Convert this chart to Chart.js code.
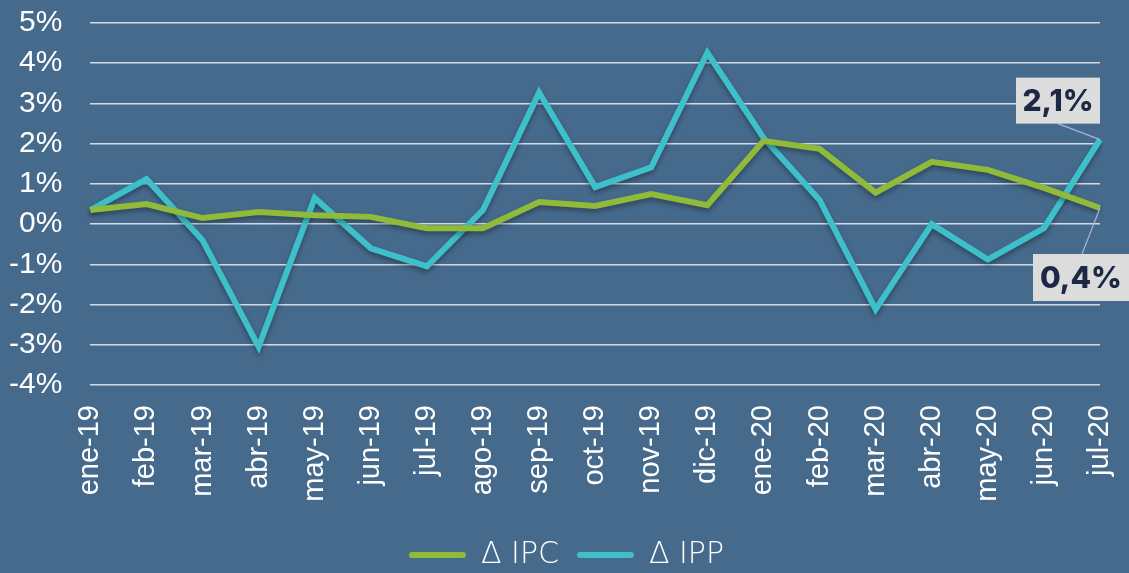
<!DOCTYPE html>
<html lang="es">
<head>
    <meta charset="UTF-8">
    <script src="https://cdn.jsdelivr.net/npm/chart.js@4/dist/chart.umd.min.js"></script>
    <style>
        html, body {
            margin: 0;
            padding: 0;
            background: #466a8c;
        }

        .chart-box {
            width: 1129px;
            height: 573px;
            position: relative;
        }
    </style>
    <title>IPC vs IPP</title>
</head>
<body>
    <div class="chart-box">
        <canvas id="chartCanvas"></canvas>
    </div>

    <script>
        const months = ['ene-19', 'feb-19', 'mar-19', 'abr-19', 'may-19', 'jun-19', 'jul-19', 'ago-19', 'sep-19',
            'oct-19', 'nov-19', 'dic-19', 'ene-20', 'feb-20', 'mar-20', 'abr-20', 'may-20', 'jun-20', 'jul-20'];
        const ipc = [0.35, 0.5, 0.15, 0.3, 0.22, 0.18, -0.1, -0.1, 0.55, 0.45, 0.75, 0.47, 2.07, 1.87, 0.78, 1.55, 1.35, 0.9, 0.4];
        const ipp = [0.35, 1.12, -0.4, -3.05, 0.65, -0.6, -1.05, 0.35, 3.27, 0.92, 1.41, 4.26, 2.15, 0.6, -2.12, 0.0, -0.88, -0.1, 2.1];
        const lastLabels = ['2,1%', '0,4%'];

        const greenColor = '#8fba3a';
        const tealColor = '#3dc0c9';

        // callouts for the last values of each series
        const calloutPlugin = {
            id: 'callouts',
            afterDatasetsDraw(chart) {
                const ctx = chart.ctx;
                const last = months.length - 1;
                const pIpp = chart.getDatasetMeta(1).data[last];
                const pIpc = chart.getDatasetMeta(0).data[last];

                const boxes = [
                    { pt: pIpp, text: lastLabels[0], x: pIpp.x - 84, y: pIpp.y - 62, w: 84, h: 46, lx: pIpp.x - 42, ly: pIpp.y - 16 },
                    { pt: pIpc, text: lastLabels[1], x: pIpc.x - 67, y: pIpc.y + 46, w: 96, h: 47, lx: pIpc.x - 18, ly: pIpc.y + 46 }
                ];

                ctx.save();
                boxes.forEach(b => {
                    ctx.strokeStyle = '#a7b4df';
                    ctx.lineWidth = 1.2;
                    ctx.beginPath();
                    ctx.moveTo(b.lx, b.ly);
                    ctx.lineTo(b.pt.x, b.pt.y);
                    ctx.stroke();

                    ctx.fillStyle = '#dcdcdc';
                    ctx.fillRect(b.x, b.y, b.w, b.h);
                    ctx.fillStyle = '#1d2746';
                    ctx.font = '800 30px Inter, "Open Sans", sans-serif';
                    ctx.textAlign = 'center';
                    ctx.textBaseline = 'middle';
                    ctx.fillText(b.text, b.x + b.w / 2, b.y + b.h / 2 + 1);
                });
                ctx.restore();
            }
        };

        // soft shadow under the lines
        const shadowPlugin = {
            id: 'lineShadow',
            beforeDatasetsDraw(chart) {
                chart.ctx.save();
                chart.ctx.shadowColor = 'rgba(0, 0, 0, 0.35)';
                chart.ctx.shadowBlur = 5;
                chart.ctx.shadowOffsetY = 3;
            },
            afterDatasetsDraw(chart) {
                chart.ctx.restore();
            }
        };

        const ctx = document.getElementById('chartCanvas').getContext('2d');
        const chart = new Chart(ctx, {
            type: 'line',
            data: {
                labels: months,
                datasets: [
                    {
                        label: 'Δ IPC',
                        data: ipc,
                        borderColor: greenColor,
                        backgroundColor: greenColor,
                        borderWidth: 6,
                        pointRadius: 0,
                        tension: 0,
                        fill: false
                    },
                    {
                        label: 'Δ IPP',
                        data: ipp,
                        borderColor: tealColor,
                        backgroundColor: tealColor,
                        borderWidth: 6,
                        pointRadius: 0,
                        tension: 0,
                        fill: false
                    }
                ]
            },
            options: {
                responsive: true,
                maintainAspectRatio: false,
                animation: false,
                layout: {
                    padding: { left: 4, right: 0, top: 0, bottom: -7 }
                },
                plugins: {
                    tooltip: { enabled: false },
                    legend: {
                        position: 'bottom',
                        labels: {
                            color: '#ffffff',
                            boxWidth: 57,
                            boxHeight: 6,
                            useBorderRadius: true,
                            borderRadius: 3,
                            padding: 18,
                            font: { family: '"DejaVu Sans", "Open Sans", sans-serif', size: 30, weight: '200' },
                            generateLabels(chart) {
                                const items = Chart.defaults.plugins.legend.labels.generateLabels(chart);
                                return items.map(it => Object.assign(it, { lineWidth: 0 }));
                            }
                        }
                    }
                },
                scales: {
                    x: {
                        offset: false,
                        grid: {
                            display: true,
                            drawOnChartArea: false,
                            drawTicks: true,
                            tickLength: 20,
                            tickColor: 'rgba(0, 0, 0, 0)'
                        },
                        border: { display: false },
                        afterFit(scale) {
                            scale.height = 137;
                        },
                        ticks: {
                            color: '#ffffff',
                            minRotation: 90,
                            maxRotation: 90,
                            autoSkip: false,
                            padding: 0,
                            font: { family: '"Liberation Sans", Arial, sans-serif', size: 29, lineHeight: 1 }
                        }
                    },
                    y: {
                        min: -4,
                        max: 5,
                        border: { display: false },
                        grid: {
                            color: '#d3dbe6',
                            lineWidth: 1.6,
                            drawTicks: true,
                            tickLength: 23,
                            tickColor: 'rgba(0, 0, 0, 0)'
                        },
                        ticks: {
                            stepSize: 1,
                            autoSkip: false,
                            color: '#ffffff',
                            padding: 5,
                            font: { family: '"Liberation Sans", Arial, sans-serif', size: 30 },
                            callback: v => v + '%'
                        }
                    }
                }
            },
            plugins: [shadowPlugin, calloutPlugin]
        });
    </script>
</body>
</html>
